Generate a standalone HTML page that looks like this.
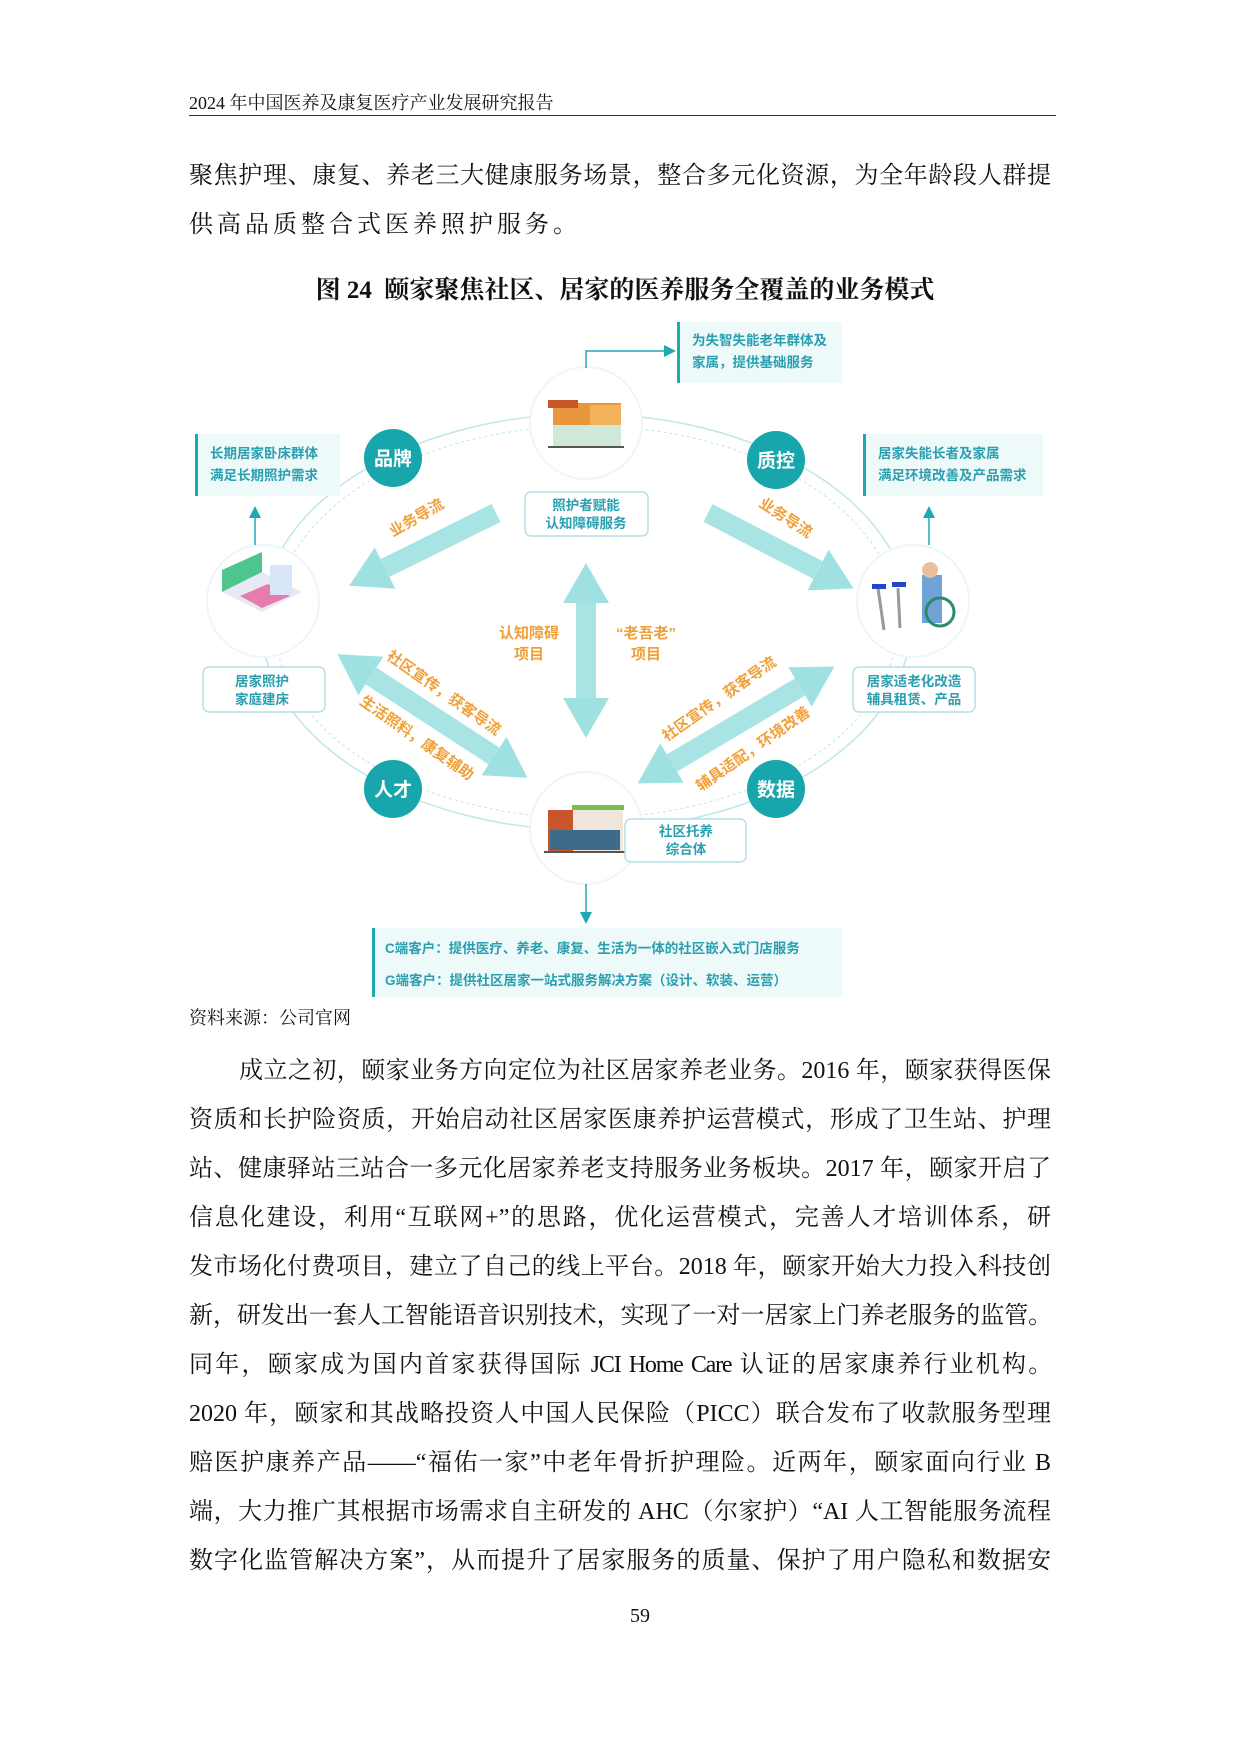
<!DOCTYPE html>
<html><head><meta charset="utf-8">
<style>
body{margin:0;background:#fff;}
#p{position:relative;width:1240px;height:1754px;overflow:hidden;background:#fff;font-family:"Liberation Serif","Noto Serif CJK SC",serif;color:#111;}
.l{position:absolute;left:189px;width:862px;font-size:24px;line-height:30px;text-align:justify;text-align-last:justify;white-space:normal;}
.t{letter-spacing:-1.2px;}
.hdr{position:absolute;left:189px;top:89px;font-size:18px;}
.rule{position:absolute;left:189px;top:115px;width:867px;height:1px;background:#333;}
svg{position:absolute;left:0;top:0;}
</style></head><body><div id="p">
<div class="hdr">2024 年中国医养及康复医疗产业发展研究报告</div>
<div class="rule"></div>
<div class="l" style="top:161px">聚焦护理、康复、养老三大健康服务场景，整合多元化资源，为全年龄段人群提</div>
<div class="l" style="top:210px;text-align-last:left;letter-spacing:4px">供高品质整合式医养照护服务。</div>
<div style="position:absolute;left:0;width:1250px;top:270px;text-align:center;font-size:25px;font-weight:bold;">图 24&nbsp; 颐家聚焦社区、居家的医养服务全覆盖的业务模式</div>

<svg width="1240" height="1754" viewBox="0 0 1240 1754" font-family="Liberation Sans, Noto Sans CJK SC, sans-serif" font-weight="bold">
<defs>
<marker id="h" markerUnits="userSpaceOnUse" markerWidth="40" markerHeight="46" refX="0" refY="23" orient="auto-start-reverse"><path d="M0,0 L40,23 L0,46z" fill="#9fe1e1"/></marker>
<marker id="s" markerUnits="userSpaceOnUse" markerWidth="12" markerHeight="12" refX="0" refY="6" orient="auto"><path d="M0,0 L12,6 L0,12z" fill="#1fa9b3"/></marker>
</defs>
<ellipse cx="586" cy="622" rx="325" ry="208" fill="none" stroke="#bfe7ea" stroke-width="1.5"/>
<ellipse cx="586" cy="622" rx="312" ry="196" fill="none" stroke="#bfe7ea" stroke-width="1" stroke-dasharray="3,3"/>
<g stroke="#a8e4e4" stroke-width="20" fill="none">
<line x1="496" y1="513" x2="385" y2="568" marker-end="url(#h)"/>
<line x1="708" y1="513" x2="818" y2="570" marker-end="url(#h)"/>
<line x1="586" y1="603" x2="586" y2="698" marker-start="url(#h)" marker-end="url(#h)"/>
<line x1="371" y1="676" x2="494" y2="756" marker-start="url(#h)" marker-end="url(#h)"/>
<line x1="800" y1="687" x2="672" y2="763" marker-start="url(#h)" marker-end="url(#h)"/>
</g>
<g fill="#fff" stroke="#eef6f6" stroke-width="2">
<circle cx="586" cy="423" r="56"/><circle cx="263" cy="601" r="56"/><circle cx="913" cy="601" r="56"/><circle cx="586" cy="828" r="56"/>
</g>
<rect x="553" y="403" width="68" height="44" fill="#e9963c"/><rect x="548" y="400" width="30" height="8" fill="#c9552b"/><rect x="553" y="425" width="68" height="22" fill="#cfe8d8"/><rect x="590" y="405" width="31" height="20" fill="#f3b35b"/><line x1="548" y1="447" x2="624" y2="447" stroke="#555" stroke-width="2"/>
<rect x="548" y="810" width="75" height="42" fill="#f1e6dc"/><rect x="548" y="810" width="25" height="42" fill="#c9552b"/><rect x="572" y="805" width="52" height="5" fill="#7cbd4c"/><rect x="550" y="830" width="70" height="20" fill="#3f6b8a"/><line x1="544" y1="852" x2="626" y2="852" stroke="#555" stroke-width="2"/>
<polygon points="222,592 262,572 302,592 262,612" fill="#e9e9f3"/><polygon points="222,592 222,570 262,552 262,572" fill="#4ec48f"/><polygon points="240,596 268,584 290,596 262,608" fill="#e67cae"/><rect x="270" y="565" width="22" height="30" fill="#d7e5f7"/>
<rect x="922" y="575" width="20" height="48" fill="#6fa2d6"/><circle cx="930" cy="570" r="8" fill="#e8c0a0"/><circle cx="940" cy="612" r="14" fill="none" stroke="#2b8a6e" stroke-width="3"/><line x1="878" y1="588" x2="884" y2="630" stroke="#999" stroke-width="3"/><line x1="898" y1="588" x2="900" y2="628" stroke="#999" stroke-width="3"/><rect x="872" y="584" width="14" height="5" fill="#2346c9"/><rect x="892" y="582" width="14" height="5" fill="#2346c9"/>
<g fill="#16a6ab"><circle cx="393" cy="458" r="29"/><circle cx="776" cy="460" r="29"/><circle cx="393" cy="789" r="29"/><circle cx="776" cy="789" r="29"/></g>
<g fill="#fff" font-size="19" text-anchor="middle"><text x="393" y="465">品牌</text><text x="776" y="467">质控</text><text x="393" y="796">人才</text><text x="776" y="796">数据</text></g>
<polyline points="586,368 586,351 664,351" fill="none" stroke="#1fa9b3" stroke-width="1.5" marker-end="url(#s)"/>
<line x1="255" y1="545" x2="255" y2="518" stroke="#1fa9b3" stroke-width="1.5" marker-end="url(#s)"/>
<line x1="929" y1="545" x2="929" y2="518" stroke="#1fa9b3" stroke-width="1.5" marker-end="url(#s)"/>
<line x1="586" y1="884" x2="586" y2="912" stroke="#1fa9b3" stroke-width="1.5" marker-end="url(#s)"/>
<g fill="#eef9f9"><rect x="677" y="322" width="165" height="61"/><rect x="195" y="434" width="145" height="62"/><rect x="863" y="434" width="180" height="62"/><rect x="372" y="928" width="470" height="69"/></g>
<g fill="#1fa9b3"><rect x="677" y="322" width="3" height="61"/><rect x="195" y="434" width="3" height="62"/><rect x="863" y="434" width="3" height="62"/><rect x="372" y="928" width="3" height="69"/></g>
<g fill="#2a9fb0" font-size="13.5"><text x="692" y="345">为失智失能老年群体及</text><text x="692" y="367">家属，提供基础服务</text>
<text x="210" y="458">长期居家卧床群体</text><text x="210" y="480">满足长期照护需求</text>
<text x="878" y="458">居家失能长者及家属</text><text x="878" y="480">满足环境改善及产品需求</text>
<text x="385" y="953">C端客户：提供医疗、养老、康复、生活为一体的社区嵌入式门店服务</text>
<text x="385" y="985">G端客户：提供社区居家一站式服务解决方案（设计、软装、运营）</text></g>
<g fill="#fff" stroke="#b3e1e6" stroke-width="1.5"><rect x="525" y="492" width="123" height="44" rx="6"/><rect x="203" y="667" width="122" height="45" rx="6"/><rect x="853" y="667" width="122" height="45" rx="6"/><rect x="625" y="819" width="121" height="43" rx="6"/></g>
<g fill="#2a9fb0" font-size="13.5" text-anchor="middle"><text x="586" y="510">照护者赋能</text><text x="586" y="528">认知障碍服务</text>
<text x="262" y="686">居家照护</text><text x="262" y="704">家庭建床</text>
<text x="914" y="686">居家适老化改造</text><text x="914" y="704">辅具租赁、产品</text>
<text x="686" y="836">社区托养</text><text x="686" y="854">综合体</text></g>
<g fill="#f0a03a" font-size="15" text-anchor="middle">
<text x="529" y="638">认知障碍</text><text x="529" y="659">项目</text>
<text x="646" y="638">“老吾老”</text><text x="646" y="659">项目</text>
<text transform="translate(419,522) rotate(-30)">业务导流</text>
<text transform="translate(783,522) rotate(33)">业务导流</text>
<text transform="translate(441,697) rotate(35)">社区宣传，获客导流</text>
<text transform="translate(414,742) rotate(35)">生活照料，康复辅助</text>
<text transform="translate(722,703) rotate(-35)">社区宣传，获客导流</text>
<text transform="translate(756,753) rotate(-35)">辅具适配，环境改善</text>
</g>
</svg>

<div style="position:absolute;left:189px;top:1004px;font-size:18px;">资料来源：公司官网</div>
<div class="l" style="top:1056px;left:239px;width:812px">成立之初，颐家业务方向定位为社区居家养老业务。2016 年，颐家获得医保</div>
<div class="l" style="top:1105px">资质和长护险资质，开始启动社区居家医康养护运营模式，形成了卫生站、护理</div>
<div class="l" style="top:1154px">站、健康驿站三站合一多元化居家养老支持服务业务板块。2017 年，颐家开启了</div>
<div class="l" style="top:1203px">信息化建设，利用“互联网+”的思路，优化运营模式，完善人才培训体系，研</div>
<div class="l" style="top:1252px">发市场化付费项目，建立了自己的线上平台。2018 年，颐家开始大力投入科技创</div>
<div class="l t" style="top:1301px">新，研发出一套人工智能语音识别技术，实现了一对一居家上门养老服务的监管。</div>
<div class="l t" style="top:1350px">同年，颐家成为国内首家获得国际 JCI Home Care 认证的居家康养行业机构。</div>
<div class="l" style="top:1399px">2020 年，颐家和其战略投资人中国人民保险（PICC）联合发布了收款服务型理</div>
<div class="l" style="top:1448px">赔医护康养产品——“福佑一家”中老年骨折护理险。近两年，颐家面向行业 B</div>
<div class="l" style="top:1497px">端，大力推广其根据市场需求自主研发的 AHC（尔家护）“AI 人工智能服务流程</div>
<div class="l" style="top:1546px">数字化监管解决方案”，从而提升了居家服务的质量、保护了用户隐私和数据安</div>
<div style="position:absolute;left:0;width:1280px;text-align:center;top:1605px;font-size:20px;">59</div>
</div></body></html>
